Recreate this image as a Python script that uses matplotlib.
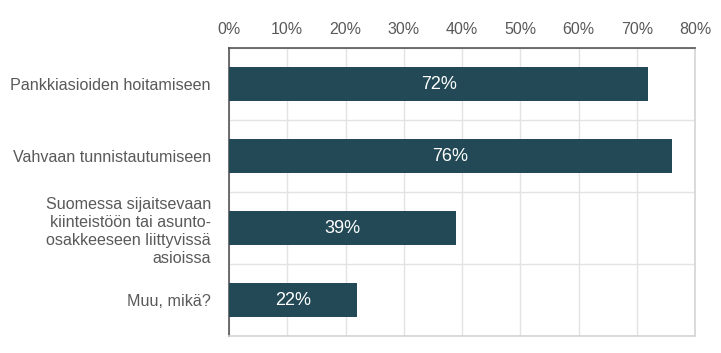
import matplotlib
matplotlib.use('Agg')
import matplotlib.pyplot as plt
from matplotlib.ticker import FuncFormatter, MultipleLocator

plt.rcParams['font.family'] = ['Liberation Sans', 'DejaVu Sans']

# Data
categories = [
    'Pankkiasioiden hoitamiseen',
    'Vahvaan tunnistautumiseen',
    'Suomessa sijaitsevaan\nkiinteistöön tai asunto-\nosakkeeseen liittyvissä\nasioissa',
    'Muu, mikä?',
]
values = [72, 76, 39, 22]
x_ticks = [0, 10, 20, 30, 40, 50, 60, 70, 80]

bar_color = '#224955'
grid_color = '#e3e3e3'
text_color = '#595959'

fig = plt.figure(figsize=(7.21, 3.53), dpi=100)
ax = fig.add_axes([0.3176, 0.048, 0.6464, 0.816])

pos = list(range(len(categories)))
ax.barh(pos, values, height=0.46, color=bar_color, zorder=3)

# Подписи значений внутри столбцов
for p, v in zip(pos, values):
    ax.text(v / 2, p, f'{v}%', color='white', fontsize=13,
            ha='center', va='center', zorder=4)

ax.set_xlim(0, 80)
ax.set_ylim(len(categories) - 0.5, -0.5)
ax.set_xticks(x_ticks)
ax.xaxis.set_major_formatter(FuncFormatter(lambda x, _: f'{x:.0f}%'))
ax.xaxis.tick_top()
ax.tick_params(axis='x', length=0, pad=8, labelsize=11.5, labelcolor=text_color)

ax.set_yticks(pos)
ax.set_yticklabels(categories, fontsize=11.6, color=text_color,
                   multialignment='right', linespacing=1.25)
ax.tick_params(axis='y', length=0, pad=13)

# Сетка: вертикальные линии и разделители категорий
ax.grid(axis='x', color=grid_color, linewidth=1, zorder=0)
ax.yaxis.set_minor_locator(MultipleLocator(1, offset=0.5))
ax.tick_params(axis='y', which='minor', length=0)
ax.grid(axis='y', which='minor', color=grid_color, linewidth=1, zorder=0)

ax.spines['top'].set_color('#555555')
ax.spines['left'].set_color('#555555')
ax.spines['right'].set_color('#d4d4d4')
ax.spines['bottom'].set_color('#d4d4d4')
for s in ax.spines.values():
    s.set_linewidth(1.2)

plt.savefig('out.png', dpi=100)
